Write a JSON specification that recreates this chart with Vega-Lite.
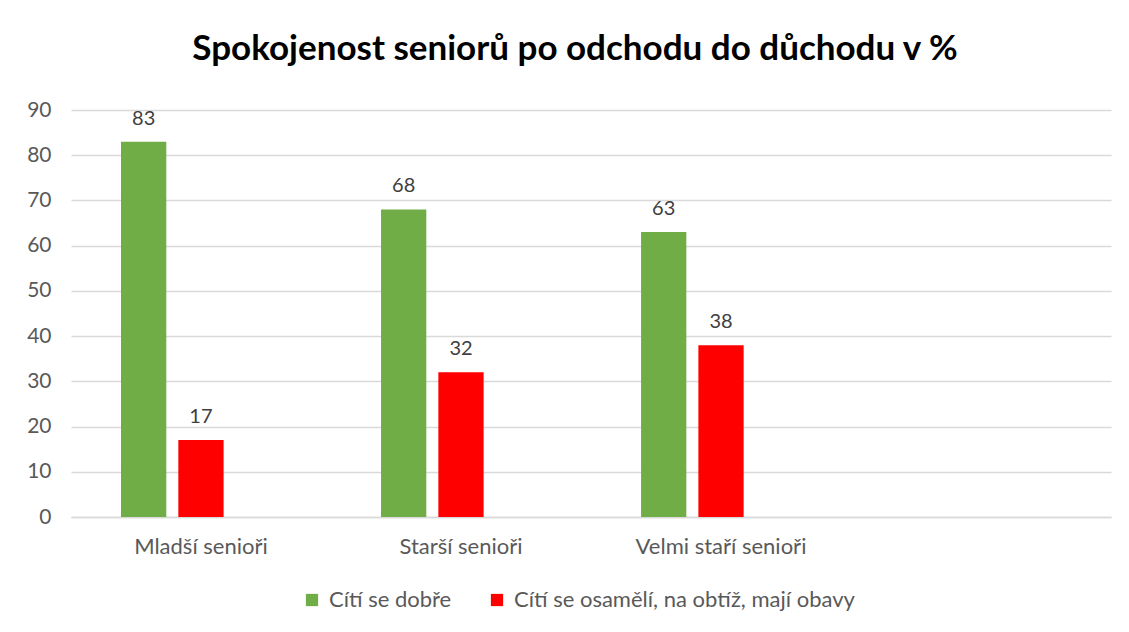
{
  "$schema": "https://vega.github.io/schema/vega-lite/v6.json",
  "autosize": "none",
  "width": 1040,
  "height": 407,
  "padding": {"left": 71, "top": 110, "right": 18, "bottom": 115},
  "background": "white",
  "title": {
    "text": "Spokojenost seniorů po odchodu do důchodu v %",
    "font": "Lato",
    "fontSize": 35,
    "fontWeight": "bold",
    "color": "black",
    "anchor": "middle",
    "dx": -16,
    "offset": 32
  },
  "config": {
    "font": "Lato",
    "view": {"stroke": null}
  },
  "data": {
    "values": [
      {"skupina": "Mladší senioři", "serie": "Cítí se dobře", "hodnota": 83},
      {"skupina": "Mladší senioři", "serie": "Cítí se osamělí, na obtíž, mají obavy", "hodnota": 17},
      {"skupina": "Starší senioři", "serie": "Cítí se dobře", "hodnota": 68},
      {"skupina": "Starší senioři", "serie": "Cítí se osamělí, na obtíž, mají obavy", "hodnota": 32},
      {"skupina": "Velmi staří senioři", "serie": "Cítí se dobře", "hodnota": 63},
      {"skupina": "Velmi staří senioři", "serie": "Cítí se osamělí, na obtíž, mají obavy", "hodnota": 38}
    ]
  },
  "encoding": {
    "x": {
      "field": "skupina",
      "type": "nominal",
      "scale": {"domain": ["Mladší senioři", "Starší senioři", "Velmi staří senioři", " "], "paddingInner": 0.385, "paddingOuter": 0.1923},
      "axis": {
        "title": null,
        "labelAngle": 0,
        "labelFontSize": 22,
        "labelColor": "#595959",
        "labelPadding": 19,
        "ticks": false,
        "domainColor": "#d9d9d9",
        "domainWidth": 1.5,
        "grid": false
      }
    },
    "xOffset": {
      "field": "serie",
      "type": "nominal",
      "scale": {"domain": ["Cítí se dobře", "Cítí se osamělí, na obtíž, mají obavy", "prázdné"], "paddingInner": 0.21, "paddingOuter": 0}
    },
    "y": {
      "field": "hodnota",
      "type": "quantitative",
      "scale": {"domain": [0, 90], "nice": false},
      "axis": {
        "title": null,
        "values": [0, 10, 20, 30, 40, 50, 60, 70, 80, 90],
        "labelFontSize": 21,
        "labelColor": "#595959",
        "labelPadding": 20,
        "ticks": false,
        "domain": false,
        "gridColor": "#d9d9d9",
        "gridWidth": 1.5
      }
    }
  },
  "layer": [
    {
      "mark": {"type": "bar"},
      "encoding": {
        "color": {
          "field": "serie",
          "type": "nominal",
          "scale": {"domain": ["Cítí se dobře", "Cítí se osamělí, na obtíž, mají obavy"], "range": ["#70AD47", "#FF0000"]},
          "legend": {
            "title": null,
            "orient": "none",
            "direction": "horizontal",
            "legendX": 230,
            "legendY": 479,
            "symbolType": "square",
            "symbolSize": 150,
            "symbolStrokeWidth": 0,
            "labelFontSize": 22,
            "labelColor": "#595959",
            "labelLimit": 600,
            "columnPadding": 34,
            "labelOffset": 6
          }
        }
      }
    },
    {
      "mark": {"type": "text", "baseline": "bottom", "dy": -13, "fontSize": 20, "color": "#404040"},
      "encoding": {
        "text": {"field": "hodnota", "type": "quantitative"}
      }
    }
  ]
}
